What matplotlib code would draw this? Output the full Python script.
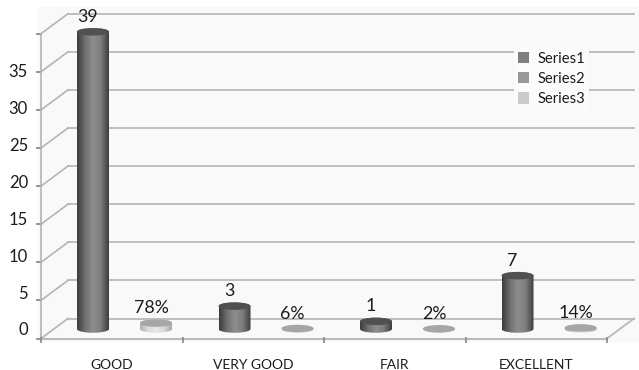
import numpy as np
import matplotlib
matplotlib.use('Agg')
import matplotlib.pyplot as plt
from matplotlib.patches import Ellipse, PathPatch, Rectangle
from matplotlib.path import Path
from matplotlib.colors import LinearSegmentedColormap

categories = ['GOOD', 'VERY GOOD', 'FAIR', 'EXCELLENT']
series1 = [39, 3, 1, 7]
series3 = [0.78, 0.06, 0.02, 0.14]
series3_labels = ['78%', '6%', '2%', '14%']
legend_names = ['Series1', 'Series2', 'Series3']
legend_colors = ['#7f7f80', '#98989a', '#cbcbcb']
y_ticks = [0, 5, 10, 15, 20, 25, 30, 35, 40]
y_labels = [0, 5, 10, 15, 20, 25, 30, 35]

# pixels per data unit on each axis
PX_X = 141.5
PX_Y = 7.62
DEPTH_X = 27 / PX_X
DEPTH_Y = 20 / PX_Y
BASE_Y = 9.5 / PX_Y
BAR_W = 32 / PX_X
CAP_H = 7.5 / PX_Y
GRID = '#b4b4b4'
FONT = 'Lato'
TEXT = '#1c1c1c'

fig = plt.figure(figsize=(6.39, 3.70), dpi=100, facecolor='white')
ax = fig.add_axes([0, 0, 1, 1])
xlim = (-41 / PX_X, (639 - 41) / PX_X)
ylim = (-(370 - 338.5) / PX_Y, 338.5 / PX_Y)
ax.axis('off')

ax.add_patch(Rectangle((-4 / PX_X, -3 / PX_Y), 640 / PX_X, 334 / PX_Y, fc='#f9f9f9', ec='none', zorder=0))

n = len(categories)


def draw_walls():
    for v in y_ticks:
        ax.plot([0, DEPTH_X], [v, v + DEPTH_Y], color=GRID, lw=1.2, zorder=1)
        ax.plot([DEPTH_X, n + DEPTH_X], [v + DEPTH_Y, v + DEPTH_Y], color=GRID, lw=1.2, zorder=1)
        ax.plot([-4 / PX_X, 0], [v, v], color='#8c8c8c', lw=1.3, zorder=1)
    ax.plot([0, 0], [0, y_ticks[-1]], color=GRID, lw=1.2, zorder=1)
    ax.plot([0, n], [0, 0], color=GRID, lw=1.3, zorder=1)
    ax.plot([n, n + DEPTH_X], [0, DEPTH_Y], color=GRID, lw=1.2, zorder=1)
    for i in range(n + 1):
        ax.plot([i, i], [-3 / PX_Y, 1 / PX_Y], color='#8c8c8c', lw=1.3, zorder=1)


def draw_cylinder(xc, value, colors, cap_color):
    left = xc - BAR_W / 2
    base = BASE_Y
    top = BASE_Y + value
    t1 = np.linspace(np.pi, 2 * np.pi, 40)
    t2 = np.linspace(0, np.pi, 40)
    xs = np.concatenate([xc + BAR_W / 2 * np.cos(t1), xc + BAR_W / 2 * np.cos(t2)])
    ys = np.concatenate([base + CAP_H / 2 * np.sin(t1), top + CAP_H / 2 * np.sin(t2)])
    clip = PathPatch(Path(np.column_stack([xs, ys])), fc='none', ec='none', transform=ax.transData)
    ax.add_patch(clip)
    cmap = LinearSegmentedColormap.from_list('cyl', colors)
    grad = np.linspace(0, 1, 64).reshape(1, -1)
    im = ax.imshow(grad, cmap=cmap, aspect='auto', zorder=3, interpolation='bilinear',
                   extent=[left, left + BAR_W, base - CAP_H, top + CAP_H])
    im.set_clip_path(clip)
    ax.add_patch(Ellipse((xc, top), BAR_W, CAP_H, fc=cap_color, ec='none', zorder=4))


draw_walls()

dark = ['#3c3c3c', '#707070', '#8e8e8e', '#7c7c7c', '#3e3e3e']
light = ['#b0b0b0', '#dcdcdc', '#e8e8e8', '#d8d8d8', '#a8a8a8']

for i, v in enumerate(series1):
    xc = i + 52 / PX_X
    draw_cylinder(xc, v, dark, '#505050')
    ax.text(xc - 5 / PX_X, BASE_Y + v + 15 / PX_Y, str(v), ha='center', va='center',
            fontsize=12.8, family=FONT, color=TEXT, zorder=5)

for i, v in enumerate(series3):
    xc = i + 115 / PX_X
    draw_cylinder(xc, v, light, '#a6a6a6')
    ax.text(xc - 5 / PX_X, BASE_Y + v + 15 / PX_Y, series3_labels[i], ha='center', va='center',
            fontsize=12.8, family=FONT, color=TEXT, zorder=5)

# the labels on the value axis run a little tighter than the ticks
for v in y_labels:
    ax.text(-13 / PX_X, 1.05 + v * 0.97, str(v), ha='right', va='center',
            fontsize=12, family=FONT, color=TEXT)

for i, name in enumerate(categories):
    ax.text(i + 0.5, -26.5 / PX_Y, name, ha='center', va='center',
            fontsize=10, family=FONT, color=TEXT)

handles = [Rectangle((0, 0), 1, 1, fc=c, ec='none') for c in legend_colors]
leg = ax.legend(handles, legend_names, loc='upper left', bbox_to_anchor=(514 / 639, 1 - 48 / 370),
                frameon=True, facecolor='#fbfbfb', edgecolor='none', framealpha=1, fancybox=False,
                prop={'family': FONT, 'size': 10.6}, labelcolor=TEXT, handlelength=0.8, handleheight=0.8,
                handletextpad=0.55, labelspacing=0.42, borderpad=0.25, borderaxespad=0)
leg.set_zorder(2)

ax.set_xlim(*xlim)
ax.set_ylim(*ylim)
plt.savefig('out.png', dpi=100)
